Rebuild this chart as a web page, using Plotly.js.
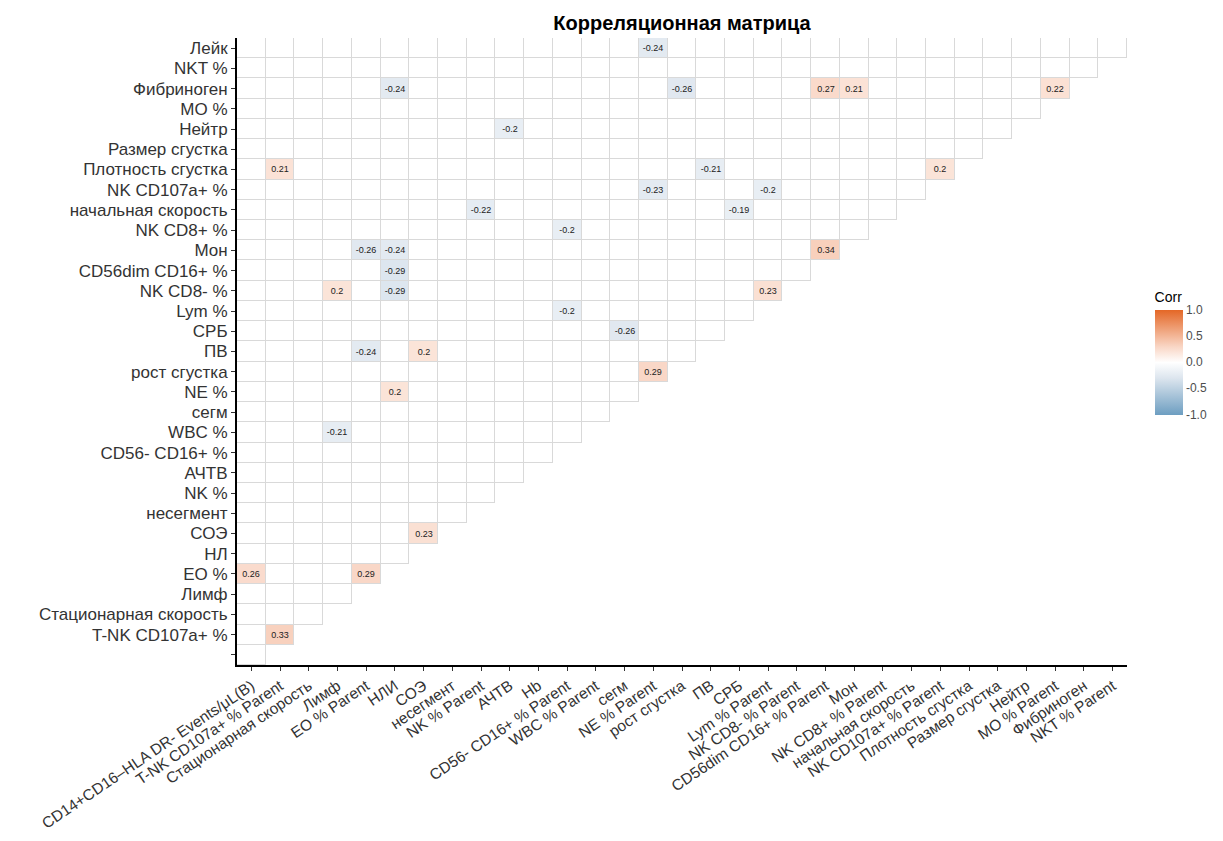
<!DOCTYPE html>
<html>
<head>
<meta charset="utf-8">
<script src="https://cdn.plot.ly/plotly-3.0.1.min.js"></script>
<style>html,body{margin:0;padding:0;background:#fff;}#chart{width:1223px;height:841px;}</style>
</head>
<body>
<div id="chart"></div>
<script>
// X-axis categories (left to right)
const xLabels = [
  'CD14+CD16–HLA DR- Events/μL(B)', 'T-NK CD107a+ % Parent', 'Стационарная скорость', 'Лимф',
  'EO % Parent', 'НЛИ', 'СОЭ', 'несегмент', 'NK % Parent', 'АЧТВ', 'Hb',
  'CD56- CD16+ % Parent', 'WBC % Parent', 'сегм', 'NE % Parent', 'рост сгустка', 'ПВ', 'СРБ',
  'Lym % Parent', 'NK CD8- % Parent', 'CD56dim CD16+ % Parent', 'Мон', 'NK CD8+ % Parent',
  'начальная скорость', 'NK CD107a+ % Parent', 'Плотность сгустка', 'Размер сгустка', 'Нейтр',
  'МО % Parent', 'Фибриноген', 'NKT % Parent'
];
// Y-axis categories (bottom to top)
const yLabels = [
  '', 'T-NK CD107a+ %', 'Стационарная скорость', 'Лимф', 'EO %', 'НЛ', 'СОЭ', 'несегмент',
  'NK %', 'АЧТВ', 'CD56- CD16+ %', 'WBC %', 'сегм', 'NE %', 'рост сгустка', 'ПВ', 'СРБ',
  'Lym %', 'NK CD8- %', 'CD56dim CD16+ %', 'Мон', 'NK CD8+ %', 'начальная скорость',
  'NK CD107a+ %', 'Плотность сгустка', 'Размер сгустка', 'Нейтр', 'МО %', 'Фибриноген',
  'NKT %', 'Лейк'
];
// Significant correlations shown in the matrix
const sigRows = [
  'Лейк', 'Фибриноген', 'Фибриноген', 'Фибриноген', 'Фибриноген', 'Фибриноген', 'Нейтр',
  'Плотность сгустка', 'Плотность сгустка', 'Плотность сгустка', 'NK CD107a+ %', 'NK CD107a+ %',
  'начальная скорость', 'начальная скорость', 'NK CD8+ %', 'Мон', 'Мон', 'Мон',
  'CD56dim CD16+ %', 'NK CD8- %', 'NK CD8- %', 'NK CD8- %', 'Lym %', 'СРБ', 'ПВ', 'ПВ',
  'рост сгустка', 'NE %', 'WBC %', 'СОЭ', 'EO %', 'EO %', 'T-NK CD107a+ %'
];
const sigCols = [
  'NE % Parent', 'НЛИ', 'рост сгустка', 'CD56dim CD16+ % Parent', 'Мон', 'МО % Parent', 'АЧТВ',
  'T-NK CD107a+ % Parent', 'ПВ', 'NK CD107a+ % Parent', 'NE % Parent', 'Lym % Parent',
  'NK % Parent', 'СРБ', 'CD56- CD16+ % Parent', 'EO % Parent', 'НЛИ', 'CD56dim CD16+ % Parent',
  'НЛИ', 'Лимф', 'НЛИ', 'Lym % Parent', 'CD56- CD16+ % Parent', 'сегм', 'EO % Parent', 'СОЭ',
  'NE % Parent', 'НЛИ', 'Лимф', 'СОЭ', 'CD14+CD16–HLA DR- Events/μL(B)', 'EO % Parent',
  'T-NK CD107a+ % Parent'
];
const sigValues = [
  -0.24, -0.24, -0.26, 0.27, 0.21, 0.22, -0.2,
  0.21, -0.21, 0.2, -0.23, -0.2,
  -0.22, -0.19, -0.2, -0.26, -0.24, 0.34,
  -0.29, 0.2, -0.29, 0.23, -0.2, -0.26, -0.24, 0.2,
  0.29, 0.2, -0.21, 0.23, 0.26, 0.29,
  0.33
];
const legendTicks = [-1, -0.5, 0, 0.5, 1];

const nX = xLabels.length, nY = yLabels.length;
const xIdx = xLabels.map((_, i) => i);
const yIdx = yLabels.map((_, i) => i);

const zMain = [], zGrid = [], txt = [];
for (let r = 0; r < nY; r++) {
  const rowM = [], rowG = [], rowT = [];
  for (let c = 0; c < nX; c++) {
    const inside = c <= r;
    rowM.push(inside ? 0 : null);
    rowG.push(inside ? 1 : null);
    rowT.push('');
  }
  zMain.push(rowM); zGrid.push(rowG); txt.push(rowT);
}
for (let k = 0; k < sigValues.length; k++) {
  const r = yLabels.indexOf(sigRows[k]);
  const c = xLabels.indexOf(sigCols[k]);
  zMain[r][c] = sigValues[k];
  txt[r][c] = String(sigValues[k]);
}

const font = 'Liberation Sans, Arial, sans-serif';

const gridTrace = {
  type: 'heatmap', x: xIdx, y: yIdx, z: zGrid,
  colorscale: [[0, '#d9d9d9'], [1, '#d9d9d9']], showscale: false,
  hoverinfo: 'skip', hoverongaps: false
};
const mainTrace = {
  type: 'heatmap', x: xIdx, y: yIdx, z: zMain, text: txt,
  texttemplate: '%{text}', textfont: {family: font, size: 9, color: '#222'},
  zmin: -1, zmax: 1, xgap: 1, ygap: 1, hoverongaps: false,
  colorscale: [[0, '#6D9EC1'], [0.35, '#DCE5EE'], [0.5, '#FFFFFF'], [0.65, '#F9D6C5'], [1, '#E46726']],
  colorbar: {
    title: {text: 'Corr', side: 'top', font: {family: font, size: 14, color: '#000'}},
    thickness: 28, thicknessmode: 'pixels', len: 126, lenmode: 'pixels',
    x: 1.031, xanchor: 'left', xpad: 0, y: 0.5, yanchor: 'middle', ypad: 0,
    tickvals: legendTicks, ticktext: legendTicks.map(v => v.toFixed(1)),
    tickfont: {family: font, size: 12, color: '#4d4d4d'}, outlinewidth: 0, ticks: ''
  }
};

const layout = {
  width: 1223, height: 841,
  margin: {l: 237, r: 96, t: 38, b: 176},
  paper_bgcolor: '#fff', plot_bgcolor: '#fff',
  font: {family: font},
  title: {
    text: 'Корреляционная матрица', x: 0.5, xref: 'paper', xanchor: 'center',
    y: 0.973, yref: 'container', yanchor: 'middle',
    font: {family: font, size: 20, weight: 'bold', color: '#000'}
  },
  xaxis: {
    range: [-0.5, nX - 0.5], tickmode: 'array', tickvals: xIdx, ticktext: xLabels,
    tickangle: -34, tickfont: {family: font, size: 15.5, color: '#333'},
    showline: true, linecolor: '#000', linewidth: 2, ticks: 'outside', ticklen: 4,
    tickcolor: '#333', tickwidth: 1, showgrid: false, zeroline: false, automargin: false,
    fixedrange: true
  },
  yaxis: {
    range: [-0.5, nY - 0.5], tickmode: 'array', tickvals: yIdx, ticktext: yLabels,
    tickfont: {family: font, size: 17, color: '#333'},
    showline: true, linecolor: '#000', linewidth: 2, ticks: 'outside', ticklen: 4,
    tickcolor: '#333', tickwidth: 1, showgrid: false, zeroline: false, automargin: false,
    fixedrange: true
  }
};

Plotly.newPlot('chart', [gridTrace, mainTrace], layout, {displayModeBar: false, staticPlot: true});
</script>
</body>
</html>
